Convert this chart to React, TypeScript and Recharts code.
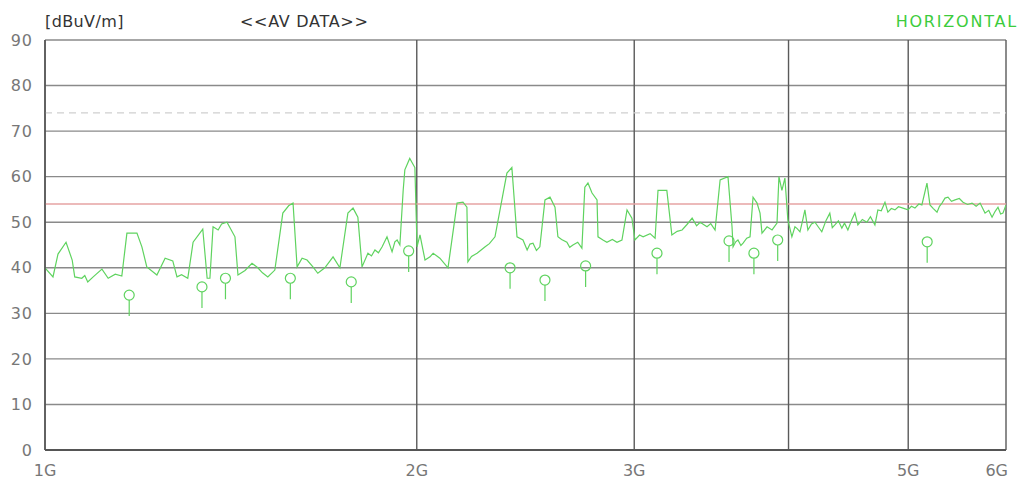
import { CartesianGrid, ComposedChart, Line, ReferenceLine, Scatter, XAxis, YAxis } from 'recharts';

// AV scan trace (frequency in GHz, level in dBuV/m)
const traceFreqGHz = [
  1.0, 1.015, 1.0245, 1.04, 1.052, 1.057, 1.071, 1.077, 1.083, 1.094, 1.112, 1.125, 1.14, 1.154, 1.165, 1.187, 1.198, 1.209,
  1.232, 1.251, 1.269, 1.279, 1.29, 1.305, 1.318, 1.342, 1.353, 1.36, 1.368, 1.381, 1.39, 1.404, 1.425, 1.433, 1.452, 1.471, 1.487,
  1.5, 1.515, 1.535, 1.558, 1.575, 1.588, 1.6, 1.615, 1.63, 1.648, 1.663, 1.685, 1.711, 1.733, 1.759, 1.776, 1.792, 1.806,
  1.826, 1.838, 1.85, 1.862, 1.875, 1.892, 1.91, 1.92, 1.928, 1.938, 1.95, 1.956, 1.974, 1.993, 2.001, 2.012, 2.031, 2.05, 2.062, 2.088,
  2.12, 2.156, 2.18, 2.196, 2.2, 2.215, 2.238, 2.255, 2.272, 2.29, 2.314, 2.344, 2.366, 2.388, 2.411, 2.438, 2.457, 2.47, 2.484, 2.5, 2.516,
  2.54, 2.564, 2.588, 2.602, 2.62, 2.646, 2.66, 2.676, 2.7, 2.721, 2.736, 2.752, 2.773, 2.799, 2.804, 2.83, 2.851, 2.88, 2.905, 2.932, 2.96,
  2.987, 3.004, 3.03, 3.05, 3.09, 3.119, 3.136, 3.188, 3.218, 3.25, 3.28, 3.31, 3.342, 3.37, 3.392, 3.436, 3.46, 3.488, 3.521, 3.573, 3.6, 3.607,
  3.625, 3.64, 3.66, 3.675, 3.7, 3.723, 3.744, 3.772, 3.793, 3.807, 3.843, 3.879, 3.915, 3.929, 3.951, 3.973, 3.995, 4.025, 4.048,
  4.065, 4.086, 4.105, 4.124, 4.147, 4.175, 4.202, 4.23, 4.256, 4.29, 4.32, 4.34, 4.361, 4.39, 4.418, 4.44, 4.468, 4.5, 4.527, 4.552,
  4.59, 4.629, 4.66, 4.699, 4.725, 4.755, 4.788, 4.814, 4.845, 4.878, 4.91, 4.951, 4.998, 5.03, 5.063, 5.1, 5.129, 5.178, 5.207, 5.24,
  5.276, 5.3, 5.325, 5.355, 5.385, 5.42, 5.456, 5.5, 5.538, 5.585, 5.632, 5.675, 5.717, 5.77, 5.81, 5.846, 5.88, 5.911, 5.94, 5.966, 6.0,
];
const traceLevel = [
  40, 38, 43, 45.6, 41.7, 38, 37.7, 38.3, 36.9, 38, 39.7, 37.7, 38.6, 38.2, 47.6, 47.6, 44.6, 40.2,
  38.4, 42.1, 41.5, 38, 38.5, 37.7, 45.6, 48.5, 37.7, 37.7, 49, 48.3, 49.6, 50, 46.8, 38.4, 39.4, 41, 40,
  38.9, 38, 39.5, 52, 53.6, 54.2, 40.2, 42.1, 41.7, 40.2, 38.8, 40, 42.4, 40, 52, 53.1, 51.1, 40.2,
  43.2, 42.6, 43.9, 43.3, 44.6, 46.8, 43.5, 45.7, 46.1, 45, 57, 61.5, 64, 62, 44.6, 47.2, 41.7, 42.4, 43.2, 42.1,
  40, 54.2, 54.4, 53.3, 41.3, 42.5, 43.2, 43.9, 44.6, 45.3, 46.8, 54.9, 60.8, 62, 46.8, 46.1, 43.9, 45.2, 45.4, 43.8, 44.6,
  54.9, 55.5, 53.3, 46.8, 46.2, 45.6, 44.5, 45, 45.6, 44.3, 57.7, 58.6, 56.4, 54.9, 46.8, 46.1, 45.6, 46.2, 45.6, 46.1, 52.7,
  50.9, 46.1, 47.2, 46.8, 47.5, 46.5, 57, 57, 47.2, 48, 48.3, 49.5, 50.9, 49.2, 50, 49, 49.7, 48.3, 59.3, 60, 49, 44.6,
  45.7, 46.1, 44.9, 45.4, 46.5, 46.8, 55.5, 54.2, 52, 47.6, 49, 48.3, 49.8, 60, 57, 59.7, 50.5, 46.8, 49,
  48.6, 47.9, 50.2, 52.7, 48.3, 49.6, 50, 48.9, 47.9, 50.4, 52, 48.8, 49.4, 50.3, 48.7, 49.8, 48.3, 50.5, 52, 49.4,
  50.6, 50, 51.2, 49.4, 52.7, 52.5, 54.4, 52.2, 53, 52.7, 53.4, 53.1, 52.7, 53.5, 53.1, 54, 53.8, 58.6, 53.8, 53,
  52.2, 53.5, 54.2, 55.3, 55.5, 54.6, 54.9, 55.2, 54.4, 53.9, 54.2, 53.5, 54.2, 52, 52.6, 51.1, 52.4, 53.3, 51.8, 52, 53.8,
];

// final measurement markers
const markerFreqGHz = [1.17, 1.34, 1.4, 1.58, 1.77, 1.97, 2.38, 2.54, 2.74, 3.13, 3.58, 3.75, 3.92, 5.18];
const markerLevel = [34, 35.8, 37.7, 37.7, 36.9, 43.7, 40, 37.3, 40.4, 43.2, 45.9, 43.2, 46.1, 45.7];

const xTicks = [1, 2, 3, 4, 5, 6];
const xTickLabels = ['1G', '2G', '3G', '', '5G', '6G'];
const yTicks = [0, 10, 20, 30, 40, 50, 60, 70, 80, 90];

const avLimit = 54;
const peakLimit = 74;

const trace = traceFreqGHz.map((f, i) => ({ f, level: traceLevel[i] }));
const markers = markerFreqGHz.map((f, i) => ({ f, level: markerLevel[i] }));

const green = '#5fd35f';
const font = '"DejaVu Sans", Verdana, sans-serif';

function MarkerShape(props: any) {
  const { cx, cy } = props;
  if (cx == null || cy == null) return null;
  return (
    <g>
      <circle cx={cx} cy={cy} r={5} fill="none" stroke={green} strokeWidth={1.2} />
      <line x1={cx} y1={cy + 5} x2={cx} y2={cy + 21} stroke={green} strokeWidth={1.2} />
    </g>
  );
}

function XTick(props: any) {
  const { x, y, payload } = props;
  const i = xTicks.indexOf(payload.value);
  const label = xTickLabels[i] ?? '';
  const last = payload.value === 6;
  return (
    <text
      x={last ? x + 2 : x}
      y={y}
      dy="0.71em"
      textAnchor={last ? 'end' : 'middle'}
      fontSize={16}
      fontFamily={font}
      fill="#777"
    >
      {label}
    </text>
  );
}

const titleStyle = { position: 'absolute' as const, top: 12, fontSize: 16, color: '#333' };

export default function App() {
  return (
    <div style={{ position: 'absolute', left: 0, top: 0, width: 1022, height: 483, background: '#fff', fontFamily: font }}>
      <div style={{ ...titleStyle, left: 45, letterSpacing: 0.4 }}>[dBuV/m]</div>
      <div style={{ ...titleStyle, left: 240, letterSpacing: 0.7 }}>&lt;&lt;AV DATA&gt;&gt;</div>
      <div style={{ ...titleStyle, right: 4, letterSpacing: 1.8, color: '#3ccc3c' }}>HORIZONTAL</div>
      <ComposedChart width={1022} height={483} margin={{ top: 40, right: 16, bottom: 3, left: 0 }}>
        <CartesianGrid vertical={false} stroke="#8a8a8a" strokeWidth={1.4} />
        <CartesianGrid horizontal={false} stroke="#5a5a5a" strokeWidth={1.4} />
        <XAxis
          dataKey="f"
          type="number"
          scale="log"
          domain={[1, 6]}
          ticks={xTicks}
          allowDataOverflow
          height={30}
          tickSize={0}
          tickMargin={15}
          tickLine={false}
          axisLine={{ stroke: '#555', strokeWidth: 2 }}
          tick={<XTick />}
        />
        <YAxis
          type="number"
          domain={[0, 90]}
          ticks={yTicks}
          width={45}
          tickSize={0}
          tickMargin={12}
          tickLine={false}
          axisLine={{ stroke: '#555', strokeWidth: 1.5 }}
          tick={{ fontSize: 16, fill: '#777', fontFamily: font, letterSpacing: 1 }}
        />
        <ReferenceLine y={peakLimit} stroke="#cfcfcf" strokeDasharray="7 5" strokeWidth={1.3} />
        <ReferenceLine y={avLimit} stroke="#e6a3a3" strokeWidth={1.3} />
        <Line
          data={trace}
          dataKey="level"
          type="linear"
          stroke={green}
          strokeWidth={1.2}
          dot={false}
          isAnimationActive={false}
        />
        <Scatter data={markers} dataKey="level" shape={<MarkerShape />} isAnimationActive={false} />
      </ComposedChart>
    </div>
  );
}
